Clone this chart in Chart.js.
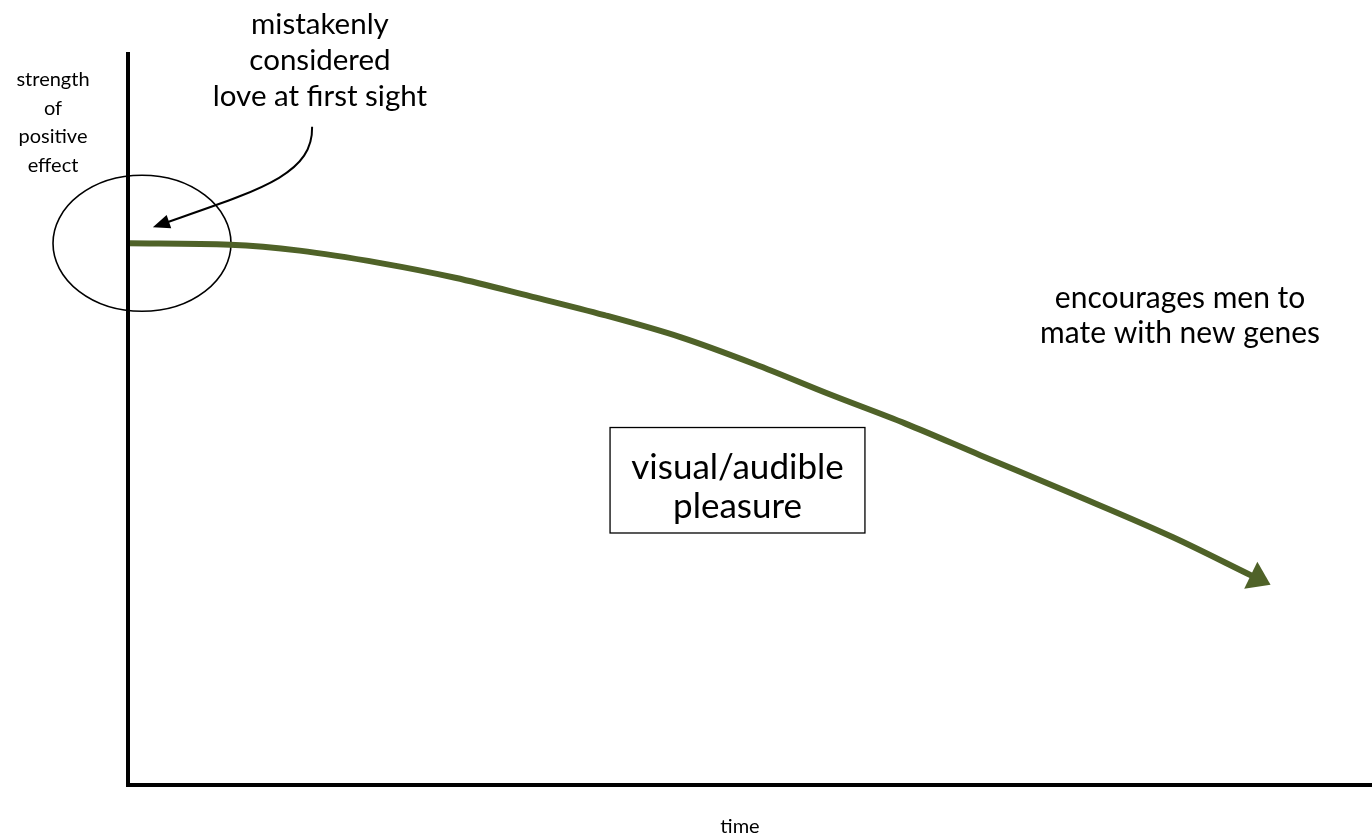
<!DOCTYPE html>
<html>
<head>
<meta charset="utf-8">
<script src="https://cdn.jsdelivr.net/npm/chart.js@4.4.1/dist/chart.umd.min.js"></script>
<style>
  html, body { margin: 0; padding: 0; background: #fff; }
  #wrap { width: 1372px; height: 839px; }
</style>
</head>
<body>
<div id="wrap"><canvas id="chart" width="1372" height="839"></canvas></div>
<script>
// curve values (time 0..100, strength 0..100)
const timeX = [0, 8.2, 13.8, 20.3, 26.3, 32.3, 38.3, 44.4, 50.4, 56.4, 62.5, 68.5, 76.1, 84.0, 90.4];
const effectY = [73.9, 73.7, 72.9, 71.2, 69.2, 66.7, 64.1, 61.1, 57.4, 53.3, 49.3, 45.0, 39.6, 33.8, 28.5];

const yAxisLabel = ['strength', 'of', 'positive', 'effect'];
const xAxisLabel = 'time';
const calloutLines = ['mistakenly', 'considered', 'love at first sight'];
const boxLines = ['visual/audible', 'pleasure'];
const noteLines = ['encourages men to', 'mate with new genes'];

const GREEN = '#4F6228';
const FONT = 'Lato, "Open Sans", sans-serif';

function textLines(ctx, lines, cx, cy, step, size) {
  ctx.font = `${size}px ${FONT}`;
  ctx.fillStyle = '#000';
  ctx.textAlign = 'center';
  ctx.textBaseline = 'middle';
  lines.forEach((t, i) => ctx.fillText(t, cx, cy + i * step));
}

function arrowHead(ctx, tipX, tipY, angle, len, half, color) {
  ctx.save();
  ctx.translate(tipX, tipY);
  ctx.rotate(angle);
  ctx.beginPath();
  ctx.moveTo(0, 0);
  ctx.lineTo(-len, -half);
  ctx.lineTo(-len, half);
  ctx.closePath();
  ctx.fillStyle = color;
  ctx.fill();
  ctx.restore();
}

const diagramPlugin = {
  id: 'diagram',
  beforeDatasetsDraw(chart) {
    const { ctx, scales: { x, y } } = chart;
    // circle around the starting point
    const cx = x.getPixelForValue(timeX[0]) + 14;
    const cy = y.getPixelForValue(effectY[0]);
    ctx.save();
    ctx.beginPath();
    ctx.ellipse(cx, cy, 89, 68, 0, 0, Math.PI * 2);
    ctx.lineWidth = 1.6;
    ctx.strokeStyle = '#000';
    ctx.stroke();
    ctx.restore();
  },
  afterDatasetsDraw(chart) {
    const { ctx, chartArea: a, scales: { x, y } } = chart;
    ctx.save();

    // axes
    ctx.strokeStyle = '#000';
    ctx.lineWidth = 4;
    ctx.beginPath();
    ctx.moveTo(a.left, a.top);
    ctx.lineTo(a.left, a.bottom + 2);
    ctx.moveTo(a.left - 2, a.bottom);
    ctx.lineTo(a.right, a.bottom);
    ctx.stroke();

    // arrowhead at the end of the curve
    const pts = chart.getDatasetMeta(0).data;
    const p1 = pts[pts.length - 2], p2 = pts[pts.length - 1];
    const ang = Math.atan2(p2.y - p1.y, p2.x - p1.x);
    arrowHead(ctx, p2.x + 20 * Math.cos(ang), p2.y + 20 * Math.sin(ang), ang, 22, 15, GREEN);

    // callout arrow
    const sx = x.getPixelForValue(14.8), sy = y.getPixelForValue(89.8);
    const tx = x.getPixelForValue(2.0), ty = y.getPixelForValue(76.1);
    const c1x = sx + 1, c1y = sy + 48, c2x = sx - 52, c2y = sy + 63;
    const tang = Math.atan2(ty - c2y, tx - c2x);
    ctx.beginPath();
    ctx.moveTo(sx, sy);
    ctx.bezierCurveTo(c1x, c1y, c2x, c2y, tx - 10 * Math.cos(tang), ty - 10 * Math.sin(tang));
    ctx.lineWidth = 2;
    ctx.strokeStyle = '#000';
    ctx.stroke();
    arrowHead(ctx, tx, ty, tang, 17, 7, '#000');

    // texts
    textLines(ctx, yAxisLabel, a.left - 75, a.top + 28, 28.5, 20);
    textLines(ctx, [xAxisLabel], 740, a.bottom + 42, 0, 20);
    textLines(ctx, calloutLines, x.getPixelForValue(15.43), y.getPixelForValue(103.7), 36, 29.5);
    textLines(ctx, noteLines, x.getPixelForValue(84.57), y.getPixelForValue(66.44), 35, 30);

    // boxed label
    const bl = x.getPixelForValue(38.75), br = x.getPixelForValue(59.24);
    const bt = y.getPixelForValue(48.77), bb = y.getPixelForValue(34.38);
    ctx.fillStyle = '#fff';
    ctx.fillRect(bl, bt, br - bl, bb - bt);
    ctx.lineWidth = 1.3;
    ctx.strokeStyle = '#000';
    ctx.strokeRect(bl, bt, br - bl, bb - bt);
    textLines(ctx, boxLines, (bl + br) / 2, bt + 40, 39, 35);

    ctx.restore();
  }
};

new Chart(document.getElementById('chart'), {
  type: 'line',
  data: {
    datasets: [{
      data: timeX.map((t, i) => ({ x: t, y: effectY[i] })),
      borderColor: GREEN,
      borderWidth: 6,
      borderCapStyle: 'butt',
      cubicInterpolationMode: 'monotone',
      pointRadius: 0,
      fill: false,
      clip: false
    }]
  },
  options: {
    responsive: false,
    animation: false,
    devicePixelRatio: 1,
    layout: { padding: { left: 128, top: 52, right: 0, bottom: 54 } },
    plugins: { legend: { display: false }, tooltip: { enabled: false } },
    scales: {
      x: { type: 'linear', min: 0, max: 100, display: false },
      y: { type: 'linear', min: 0, max: 100, display: false }
    }
  },
  plugins: [diagramPlugin]
});
</script>
</body>
</html>
